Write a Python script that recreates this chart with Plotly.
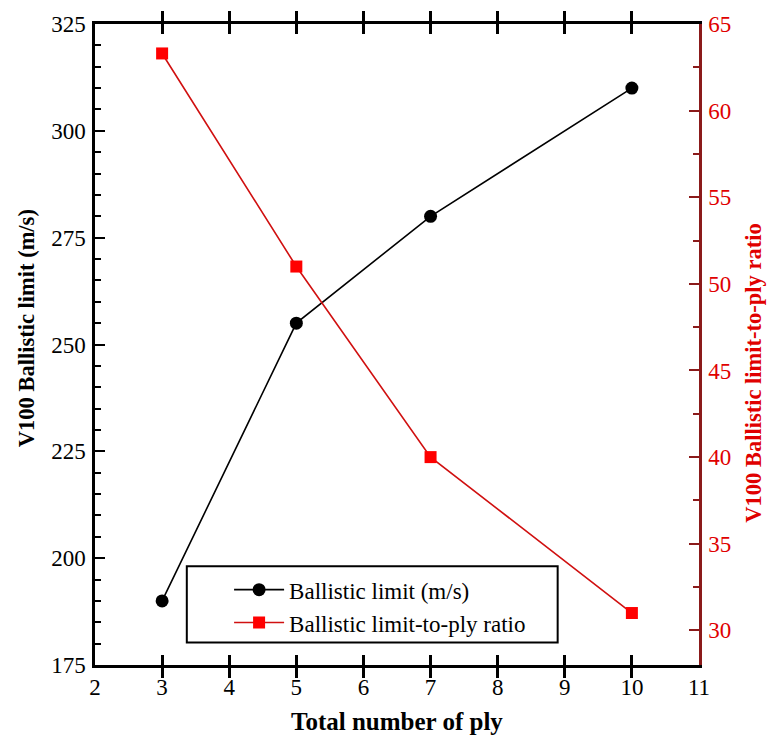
import plotly.graph_objects as go

# Ballistic test results per laminate thickness
plies = [3, 5, 7, 10]
ballistic_limit = [190, 255, 280, 310]          # V100, m/s
limit_to_ply_ratio = [63.3, 51.0, 40.0, 31.0]    # m/s per ply

x_ticks = list(range(2, 12))
left_ticks = [175, 200, 225, 250, 275, 300, 325]
right_ticks = [30, 35, 40, 45, 50, 55, 60, 65]

FONT = "Liberation Serif, Times New Roman, Times, serif"
RED = "#e00000"
DARK_RED = "#8b1a1a"

fig = go.Figure()

fig.add_trace(go.Scatter(
    x=plies, y=ballistic_limit, name="Ballistic limit (m/s)",
    mode="lines+markers",
    line=dict(color="black", width=1.6),
    marker=dict(symbol="circle", size=13, color="black"),
))
fig.add_trace(go.Scatter(
    x=plies, y=limit_to_ply_ratio, name="Ballistic limit-to-ply ratio",
    mode="lines+markers", yaxis="y2",
    line=dict(color="#d01010", width=1.6),
    marker=dict(symbol="square", size=12, color="#ff0000"),
))

fig.update_layout(
    width=768, height=738,
    margin=dict(l=95, r=69, t=16, b=73),
    paper_bgcolor="white", plot_bgcolor="white",
    font=dict(family=FONT, size=22, color="black"),
    showlegend=True,
    legend=dict(
        x=0.222, y=0.151, xanchor="left", yanchor="top",
        bgcolor="rgba(0,0,0,0)", borderwidth=0,
        font=dict(family=FONT, size=23, color="black"),
        itemwidth=50, tracegroupgap=0,
    ),
    xaxis=dict(
        range=[2, 11], tickvals=x_ticks, ticktext=[str(v) for v in x_ticks],
        showgrid=False, zeroline=False,
        showline=True, linecolor="black", linewidth=2.5,
        mirror="allticks", ticks="inside", ticklen=10, tickwidth=2.5, tickcolor="black",
        tickfont=dict(family=FONT, size=23, color="black"),
    ),
    yaxis=dict(
        range=[175, 325], tickvals=left_ticks,
        showgrid=False, zeroline=False,
        showline=True, linecolor="black", linewidth=2.5,
        ticks="inside", ticklen=10, tickwidth=1.5, tickcolor="black",
        minor=dict(dtick=5, ticks="inside", ticklen=6, tickwidth=1.5, tickcolor="black"),
        tickfont=dict(family=FONT, size=23, color="black"),
        ticklabelstandoff=2,
    ),
    yaxis2=dict(
        range=[28, 65], tickvals=right_ticks,
        overlaying="y", side="right",
        showgrid=False, zeroline=False,
        showline=True, linecolor=DARK_RED, linewidth=2.5,
        ticks="inside", ticklen=10, tickwidth=1.5, tickcolor=DARK_RED,
        minor=dict(dtick=2.5, ticks="inside", ticklen=6, tickwidth=1.5, tickcolor=DARK_RED),
        tickfont=dict(family=FONT, size=23, color=RED),
        ticklabelstandoff=2,
    ),
    shapes=[dict(
        type="rect", xref="paper", yref="paper",
        x0=0.152, x1=0.766, y0=0.035, y1=0.154,
        line=dict(color="black", width=2), fillcolor="rgba(0,0,0,0)",
    )],
    annotations=[
        dict(text="<b>Total number of ply</b>", xref="paper", yref="paper",
             x=0.5, y=-0.088, xanchor="center", yanchor="middle",
             showarrow=False, font=dict(family=FONT, size=25, color="black")),
        dict(text="<b>V100 Ballistic limit (m/s)</b>", xref="paper", yref="paper",
             x=-0.113, y=0.525, xanchor="center", yanchor="middle", textangle=-90,
             showarrow=False, font=dict(family=FONT, size=22.5, color="black")),
        dict(text="<b>V100 Ballistic limit-to-ply ratio</b>", xref="paper", yref="paper",
             x=1.09, y=0.455, xanchor="center", yanchor="middle", textangle=-90,
             showarrow=False, font=dict(family=FONT, size=22.5, color=RED)),
    ],
)

fig.write_html("out.html")
